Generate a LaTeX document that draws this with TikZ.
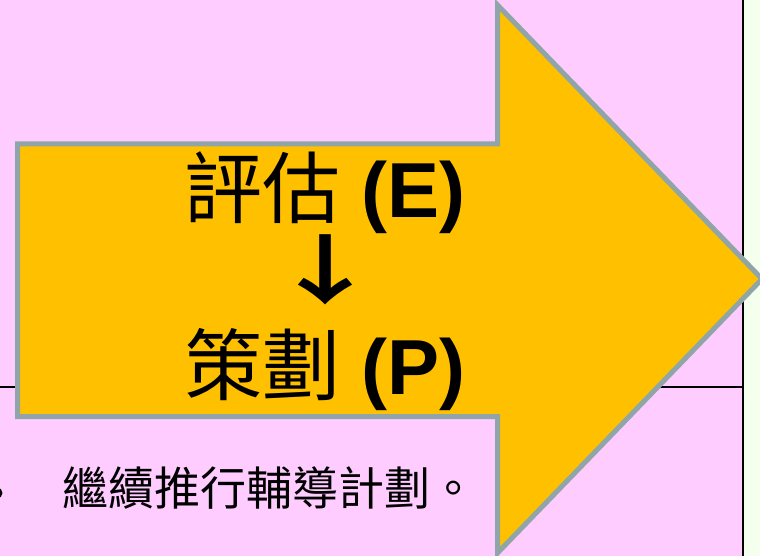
\documentclass[tikz,border=0pt]{standalone}
\usepackage{fontspec}
\setmainfont{Liberation Sans}
\newfontfamily\cjk{Noto Sans CJK TC}
\newfontfamily\cjkbold{Noto Sans CJK TC Bold}
\definecolor{bgpink}{HTML}{FFCCFF}
\definecolor{bggreen}{HTML}{F5FFEE}
\definecolor{arroworange}{HTML}{FFC000}
\definecolor{arrowrim}{HTML}{8FA5A8}
\begin{document}
\begin{tikzpicture}[x=1pt,y=-1pt]
\useasboundingbox (0,0) rectangle (760,556);
\fill[bgpink] (0,0) rectangle (743,556);
\fill[bggreen] (743,0) rectangle (760,556);
\draw[line width=2pt] (743,0) -- (743,556);
\draw[line width=1.5pt] (0,387) -- (743,387);
\node[circle, fill, inner sep=0pt, minimum size=11pt] (dot) at (-3,493){};
\node[anchor=west, inner sep=0pt, font=\fontsize{46}{50}\selectfont\cjk] (todo) at (62,488){繼續推行輔導計劃。};
\draw[arrowrim, fill=arroworange, line width=5pt, line join=miter] (17.5,144) -- (497.5,144) -- (497.5,5) -- (762,279) -- (497.5,553) -- (497.5,416.5) -- (17.5,416.5) -- cycle;
\node[font=\fontsize{78}{84}\selectfont] (eval) at (325,193){{\cjk 評估} \textbf{(E)}};
\node[xscale=1.5, font=\fontsize{76}{80}\selectfont\cjkbold] (down) at (325,270){↓};
\node[font=\fontsize{78}{84}\selectfont] (plan) at (325,370){{\cjk 策劃} \textbf{(P)}};
\end{tikzpicture}
\end{document}
